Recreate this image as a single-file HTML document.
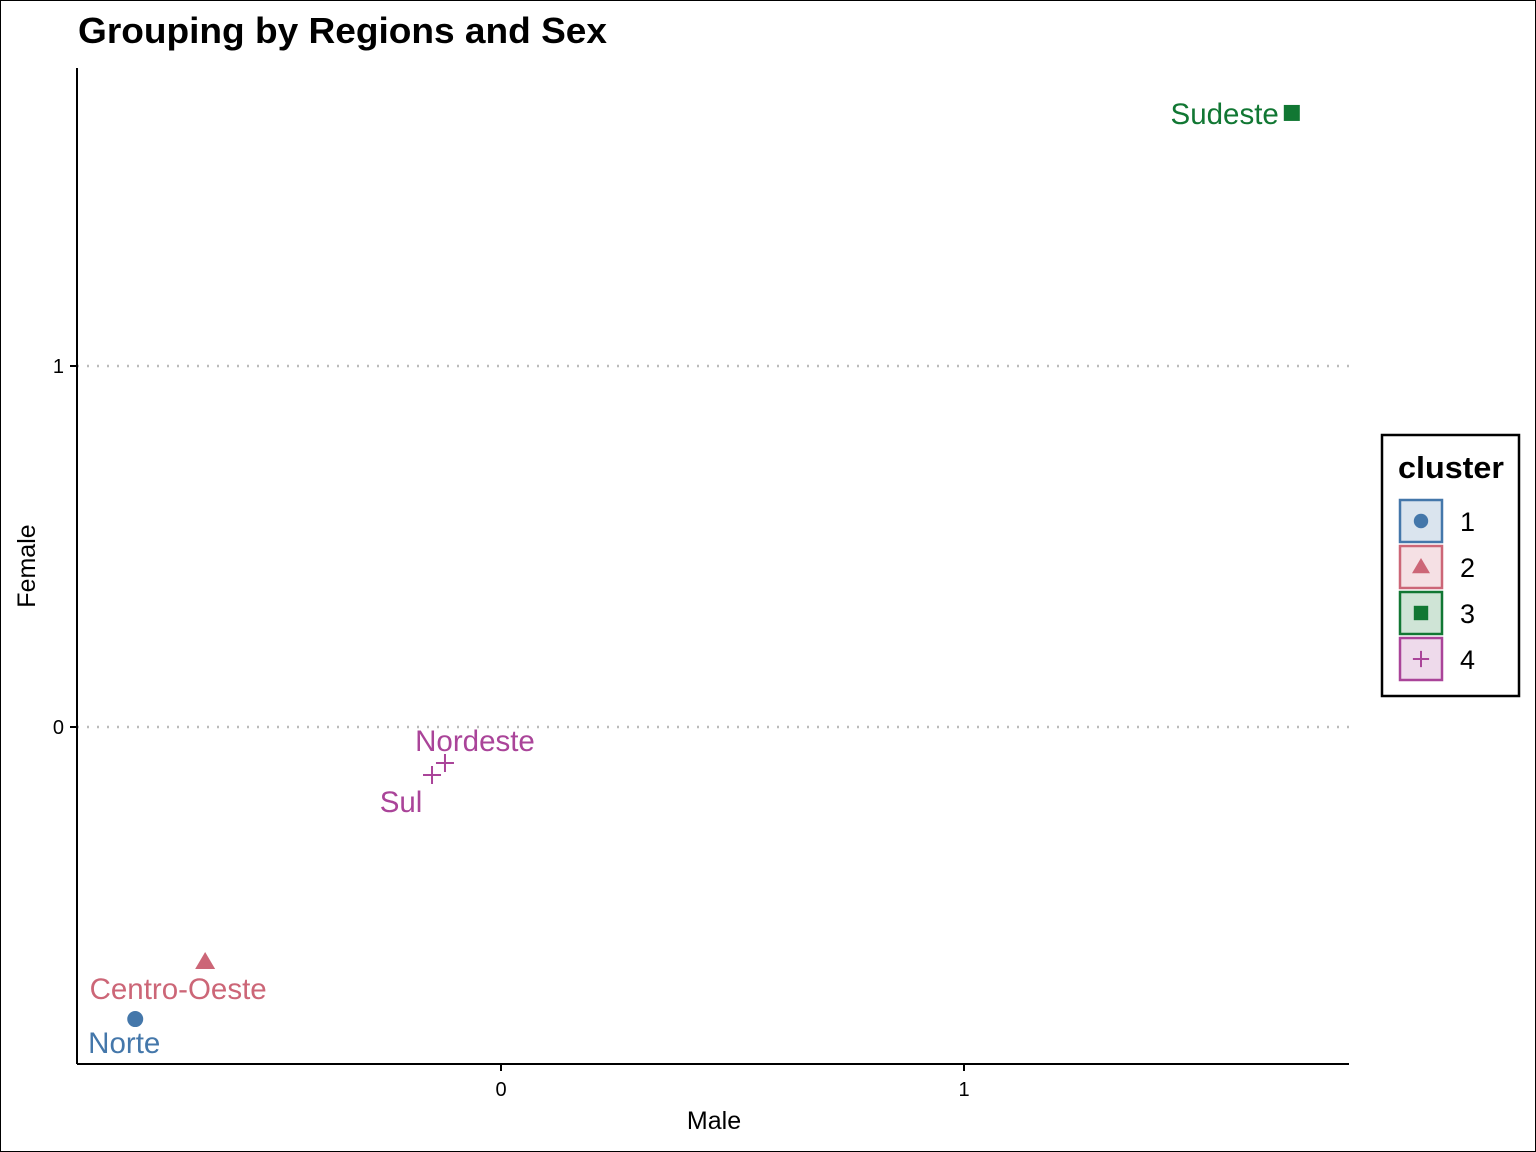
<!DOCTYPE html>
<html><head><meta charset="utf-8"><style>
body{margin:0;background:#fff;}
svg{display:block;font-family:"Liberation Sans",Arial,sans-serif;}
</style></head><body>
<svg id="chart" width="1536" height="1152" viewBox="0 0 1536 1152">
<rect x="0.5" y="0.5" width="1535" height="1151" fill="#fff" stroke="#000" stroke-width="1"/>
<text x="78" y="43" font-size="36" font-weight="bold" textLength="529" lengthAdjust="spacingAndGlyphs">Grouping by Regions and Sex</text>
<g id="grid"></g>
<line x1="77" y1="68" x2="77" y2="1064" stroke="#000" stroke-width="2"/>
<line x1="77" y1="1064" x2="1349" y2="1064" stroke="#000" stroke-width="2"/>
<g id="ticks"></g>
<g id="marks"></g>
<text x="714" y="1129" font-size="25" text-anchor="middle">Male</text>
<text x="35" y="566" font-size="25" text-anchor="middle" transform="rotate(-90 35 566)">Female</text>
<g>
<rect x="1382" y="435" width="137" height="261" fill="#fff" stroke="#000" stroke-width="2.5"/>
<text x="1398" y="478" font-size="31" font-weight="bold" textLength="106" lengthAdjust="spacingAndGlyphs">cluster</text>
<g id="legend"></g>
</g>
</svg>
<script>
const regions=["Norte","Centro-Oeste","Nordeste","Sul","Sudeste"];
const clusters=[1,2,4,4,3];
const maleVals=[-0.79,-0.639,-0.121,-0.149,1.708];
const femaleVals=[-0.809,-0.651,-0.0997,-0.133,1.701];
const xTicks=[0,1];
const yTicks=[0,1];
const colors={1:"#4477AA",2:"#CC6677",3:"#117733",4:"#AA4499"};
const NS="http://www.w3.org/2000/svg";
const X=v=>501+v*463;
const Y=v=>727-v*361;
function mk(t,a,p){const e=document.createElementNS(NS,t);for(const k in a)e.setAttribute(k,a[k]);p.appendChild(e);return e;}
const grid=document.getElementById('grid'),ticks=document.getElementById('ticks'),marks=document.getElementById('marks'),leg=document.getElementById('legend');
yTicks.forEach(t=>{
 const g=mk('line',{x1:77,x2:1349,y1:Y(t),y2:Y(t),stroke:'#bbb','stroke-width':2.5,'stroke-dasharray':'2 8'},grid);
 
 
 const tk=mk('line',{x1:70,x2:77,y1:Y(t),y2:Y(t),stroke:'#000','stroke-width':2},ticks);
 
 
 const l=mk('text',{x:64,y:Y(t)+7,'font-size':20,'text-anchor':'end'},ticks);l.textContent=t;
 
 
});
xTicks.forEach(t=>{
 const tk=mk('line',{x1:X(t),x2:X(t),y1:1064,y2:1071,stroke:'#000','stroke-width':2},ticks);
 
 
 const l=mk('text',{x:X(t),y:1096,'font-size':20,'text-anchor':'middle'},ticks);l.textContent=t;
 
 
});
function shape(c,x,y,p,s){
 const col=colors[c];let e;
 if(c===1)e=mk('circle',{cx:x,cy:y,r:8*s,fill:col},p);
 else if(c===2)e=mk('polygon',{points:`${x},${y-10*s} ${x+10*s},${y+7*s} ${x-10*s},${y+7*s}`,fill:col},p);
 else if(c===3)e=mk('rect',{x:x-8*s,y:y-8*s,width:16*s,height:16*s,fill:col},p);
 else e=mk('path',{d:`M${x-9*s},${y}H${x+9*s}M${x},${y-9*s}V${y+9*s}`,stroke:col,'stroke-width':2,fill:'none'},p);
 return e;
}
const labelOff=[[-11,34,'middle'],[-27,37,'middle'],[30,-12,'middle'],[-31,37,'middle'],[-13,11,'end']];
regions.forEach((r,i)=>{
 const x=X(maleVals[i]),y=Y(femaleVals[i]),c=clusters[i];
 const e=shape(c,x,y,marks,1);
 
 
 const o=labelOff[i];
 const t=mk('text',{x:x+o[0],y:y+o[1],'font-size':29.5,'text-anchor':o[2],fill:colors[c]},marks);t.textContent=r;
 
 
});
[1,2,3,4].forEach((c,i)=>{
 const y=521+i*46;
 const b=mk('rect',{x:1400,y:y-21,width:42,height:42,fill:colors[c],'fill-opacity':0.2,stroke:colors[c],'stroke-width':2.5},leg);
 
 
 shape(c,1421,y,leg,0.9);
 const t=mk('text',{x:1460,y:y+10,'font-size':27},leg);t.textContent=c;
 
 
});
</script>
</body></html>
